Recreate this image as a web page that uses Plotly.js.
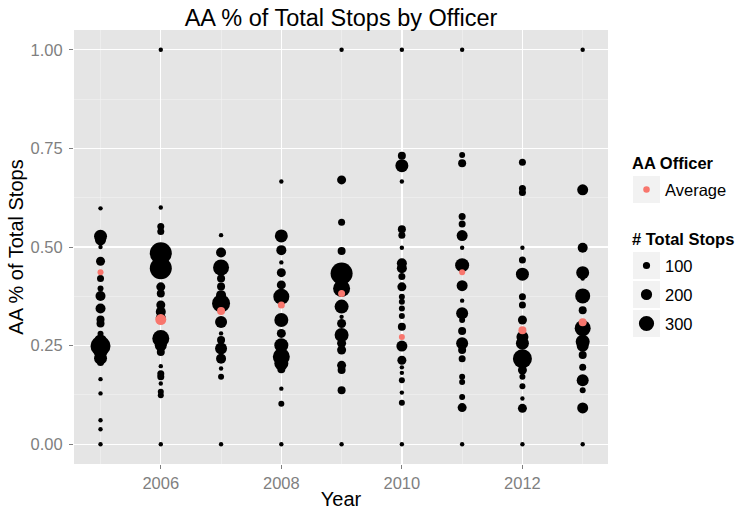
<!DOCTYPE html>
<html>
<head>
<meta charset="utf-8">
<script src="https://cdn.plot.ly/plotly-3.0.1.min.js"></script>
<style>html,body{margin:0;padding:0;background:#fff;}#chart{width:740px;height:512px;}</style>
</head>
<body>
<div id="chart"></div>
<script>
// ---- data: AA share of an officer's stops, and that officer's total stops ----
const years = [2005, 2006, 2007, 2008, 2009, 2010, 2011, 2012, 2013];

const pct2005   = [0, 0.038, 0.061, 0.129, 0.165, 0.207, 0.218, 0.235, 0.249, 0.262, 0.28, 0.306, 0.316, 0.344, 0.376, 0.395, 0.42, 0.464, 0.50, 0.518, 0.527, 0.598];
const stops2005 = [30, 30, 30, 30, 30, 95, 245, 270, 420, 245, 70, 120, 120, 170, 170, 70, 95, 145, 30, 195, 245, 30];

const pct2006   = [0, 0.124, 0.133, 0.154, 0.171, 0.179, 0.198, 0.234, 0.251, 0.268, 0.32, 0.336, 0.353, 0.382, 0.399, 0.446, 0.484, 0.539, 0.552, 0.6, 1];
const stops2006 = [30, 70, 70, 30, 95, 95, 30, 120, 220, 345, 170, 170, 145, 120, 145, 470, 470, 95, 95, 30, 30];

const pct2007   = [0, 0.171, 0.192, 0.217, 0.243, 0.264, 0.281, 0.31, 0.357, 0.378, 0.40, 0.42, 0.448, 0.486, 0.53];
const stops2007 = [30, 70, 30, 170, 220, 120, 30, 220, 370, 170, 120, 120, 320, 170, 30];

const pct2008   = [0, 0.103, 0.141, 0.19, 0.205, 0.222, 0.251, 0.281, 0.315, 0.374, 0.404, 0.435, 0.461, 0.492, 0.528, 0.666];
const stops2008 = [30, 70, 30, 120, 270, 345, 270, 145, 270, 320, 145, 145, 30, 170, 245, 30];

const pct2009   = [0, 0.137, 0.188, 0.2, 0.239, 0.256, 0.277, 0.306, 0.323, 0.349, 0.395, 0.433, 0.490, 0.563, 0.670, 1];
const stops2009 = [30, 120, 120, 145, 145, 145, 270, 145, 30, 270, 345, 470, 120, 95, 145, 30];

const pct2010   = [0, 0.105, 0.131, 0.162, 0.181, 0.195, 0.213, 0.249, 0.298, 0.325, 0.344, 0.361, 0.374, 0.399, 0.425, 0.446, 0.459, 0.498, 0.530, 0.545, 0.666, 0.706, 0.731, 1];
const stops2010 = [30, 70, 30, 70, 30, 30, 145, 195, 120, 70, 70, 70, 70, 145, 95, 170, 170, 30, 95, 120, 30, 245, 120, 30];

const pct2011   = [0, 0.093, 0.120, 0.158, 0.171, 0.217, 0.239, 0.256, 0.287, 0.315, 0.332, 0.364, 0.402, 0.454, 0.498, 0.529, 0.558, 0.577, 0.712, 0.733, 1];
const stops2011 = [30, 145, 70, 70, 70, 95, 120, 220, 120, 70, 220, 30, 195, 270, 30, 195, 95, 95, 120, 70, 30];

const pct2012   = [0, 0.091, 0.116, 0.147, 0.171, 0.188, 0.217, 0.256, 0.272, 0.315, 0.353, 0.374, 0.431, 0.467, 0.498, 0.638, 0.648, 0.715];
const stops2012 = [30, 145, 30, 70, 70, 145, 395, 245, 220, 145, 95, 95, 245, 95, 30, 95, 95, 95];

const pct2013   = [0, 0.092, 0.137, 0.162, 0.195, 0.226, 0.25, 0.260, 0.294, 0.340, 0.376, 0.420, 0.435, 0.498, 0.645, 1];
const stops2013 = [30, 195, 70, 220, 95, 120, 220, 270, 320, 120, 295, 30, 245, 170, 195, 30];

// yearly averages (AA Officer = "Average")
const avgPct   = [0.436, 0.316, 0.338, 0.353, 0.382, 0.272, 0.436, 0.289, 0.309];
const avgStops = [70, 195, 120, 95, 95, 70, 70, 120, 120];

// legend breaks for # Total Stops
const sizeBreaks = [100, 200, 300];
const yTicks = [0, 0.25, 0.5, 0.75, 1];
const xTicks = [2006, 2008, 2010, 2012];

// ---- build ----
const pctByYear = [pct2005, pct2006, pct2007, pct2008, pct2009, pct2010, pct2011, pct2012, pct2013];
const stopsByYear = [stops2005, stops2006, stops2007, stops2008, stops2009, stops2010, stops2011, stops2012, stops2013];

function diam(v) { return 3.2 + 0.04 * v; }  // size scale (px diameter)

const px = [], py = [], ps = [];
years.forEach((yr, i) => {
  pctByYear[i].forEach((p, j) => { px.push(yr); py.push(p); ps.push(stopsByYear[i][j]); });
});

const font = '"Liberation Sans", Arial, sans-serif';
const TICK = 16.5, AXT = 20, LEG = 16.5, TTL = 23.5;

const traces = [
  {
    type: 'scatter', mode: 'markers', x: px, y: py,
    marker: { color: '#000000', opacity: 1, size: ps.map(diam), sizemode: 'diameter', line: { width: 0 } },
    hoverinfo: 'x+y', showlegend: false
  },
  {
    type: 'scatter', mode: 'markers', x: years, y: avgPct,
    marker: { color: '#F8766D', opacity: 1, size: avgStops.map(diam), sizemode: 'diameter', line: { width: 0 } },
    hoverinfo: 'x+y', showlegend: false
  }
];

// legend (drawn manually in ggplot style)
const L = 74, T = 30, W = 534, H = 434;
const fx = p => (p - L) / W;
const fy = p => (T + H - p) / H;

const shapes = [];
const annotations = [];
function keyBox(top) {
  shapes.push({ type: 'rect', xref: 'paper', yref: 'paper', x0: fx(633), x1: fx(660), y0: fy(top + 27), y1: fy(top), fillcolor: '#F2F2F2', line: { width: 0 }, layer: 'above' });
}
function keyDot(cy, d, color) {
  shapes.push({ type: 'circle', xref: 'paper', yref: 'paper', xsizemode: 'pixel', ysizemode: 'pixel',
    xanchor: fx(646.5), yanchor: fy(cy), x0: -d / 2, x1: d / 2, y0: -d / 2, y1: d / 2,
    fillcolor: color, line: { width: 0 }, layer: 'above' });
}
function label(text, x, y, bold) {
  annotations.push({ xref: 'paper', yref: 'paper', x: fx(x), y: fy(y), xanchor: 'left', yanchor: 'middle',
    text: bold ? '<b>' + text + '</b>' : text, showarrow: false, font: { family: font, size: LEG, color: '#000' } });
}
label('AA Officer', 630, 163, true);
keyBox(176);
keyDot(189.5, 6.5, '#F8766D');
label('Average', 663, 190, false);
label('# Total Stops', 630, 239, true);
const keyTops = [252, 281, 310];
sizeBreaks.forEach((b, i) => {
  keyBox(keyTops[i]);
  keyDot(keyTops[i] + 13.5, diam(b), '#000000');
  label(String(b), 663, keyTops[i] + 13.5, false);
});

const layout = {
  width: 740, height: 512,
  margin: { l: L, r: 740 - L - W, t: T, b: 512 - T - H },
  paper_bgcolor: '#FFFFFF', plot_bgcolor: '#E5E5E5',
  font: { family: font },
  title: { text: 'AA % of Total Stops by Officer', x: 0.5, xref: 'paper', xanchor: 'center', y: 1 - 18 / 512, yanchor: 'middle', yref: 'container', font: { family: font, size: TTL, color: '#000' } },
  xaxis: {
    range: [2004.56, 2013.42], tickvals: xTicks, ticktext: xTicks.map(String),
    showgrid: true, gridcolor: '#FFFFFF', gridwidth: 1.3, zeroline: false, showline: false,
    ticks: 'outside', ticklen: 4, tickwidth: 1, tickcolor: '#7F7F7F',
    tickfont: { family: font, size: TICK, color: '#7F7F7F' },
    minor: { tickvals: [2005, 2007, 2009, 2011, 2013], showgrid: true, gridcolor: '#F2F2F2', gridwidth: 0.6, ticks: '' },
    title: { text: 'Year', font: { family: font, size: AXT, color: '#000' }, standoff: 1 }
  },
  yaxis: {
    range: [-0.05, 1.05], tickvals: yTicks, ticktext: yTicks.map(v => v.toFixed(2)),
    showgrid: true, gridcolor: '#FFFFFF', gridwidth: 1.3, zeroline: false, showline: false,
    ticks: 'outside', ticklen: 4, tickwidth: 1, tickcolor: '#7F7F7F', ticklabelstandoff: 3,
    tickfont: { family: font, size: TICK, color: '#7F7F7F' },
    minor: { tickvals: [0.125, 0.375, 0.625, 0.875], showgrid: true, gridcolor: '#F2F2F2', gridwidth: 0.6, ticks: '' },
    title: { text: 'AA % of Total Stops', font: { family: font, size: AXT, color: '#000' }, standoff: 1 }
  },
  shapes: shapes,
  annotations: annotations,
  showlegend: false
};

Plotly.newPlot('chart', traces, layout, { displayModeBar: false, staticPlot: true });
</script>
</body>
</html>
